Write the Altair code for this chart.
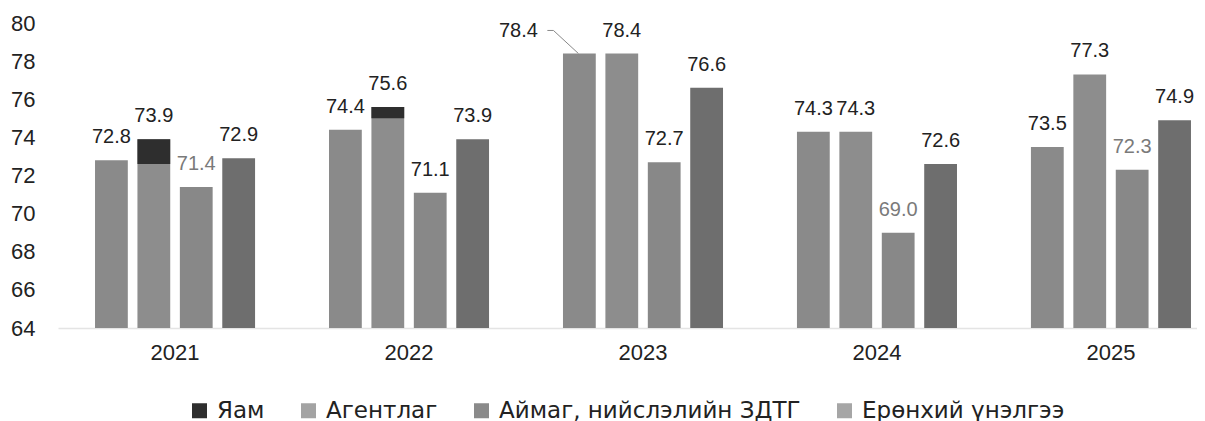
import altair as alt
import pandas as pd

years = ["2021", "2022", "2023", "2024", "2025"]
series = ["Яам", "Агентлаг", "Аймаг, нийслэлийн ЗДТГ", "Ерөнхий үнэлгээ"]
yam = [72.8, 74.4, 78.4, 74.3, 73.5]
agentlag = [73.9, 75.6, 78.4, 74.3, 77.3]
aimag = [71.4, 71.1, 72.7, 69.0, 72.3]
erunkhii = [72.9, 73.9, 76.6, 72.6, 74.9]
# dark top segment seen on the second bar (2021, 2022): from this level up to the bar value
agentlag_dark_from = [72.6, 75.0, None, None, None]

y_ticks = [64, 66, 68, 70, 72, 74, 76, 78, 80]

bar_colors = ["#8a8a8a", "#8d8d8d", "#888888", "#6e6e6e"]
legend_colors = ["#2e2e2e", "#a3a3a3", "#8a8a8a", "#a6a6a6"]
gray_label_keys = {("2021", series[2]), ("2024", series[2]), ("2025", series[2])}
leader_keys = {("2023", series[0])}

FONT = "Liberation Sans"
LEGEND_FONT = "DejaVu Sans"
# leader line shape (relative to the bar top, unit = 32px)
LEADER_PATH = "M-0.03,0L-0.81,-0.72L-1,-0.72"

rows = []
for vals, s in zip([yam, agentlag, aimag, erunkhii], series):
    for yr, v in zip(years, vals):
        rows.append({"year": yr, "series": s, "value": v,
                     "gray": (yr, s) in gray_label_keys,
                     "leader": (yr, s) in leader_keys})
df = pd.DataFrame(rows)

dark_rows = []
for yr, lo, hi in zip(years, agentlag_dark_from, agentlag):
    if lo is not None:
        dark_rows.append({"year": yr, "series": series[1], "lo": lo, "hi": hi, "legend": series[0]})
dark_df = pd.DataFrame(dark_rows)

x_enc = alt.X("year:N", sort=years, title=None,
              scale=alt.Scale(paddingInner=0.316, paddingOuter=0.092, align=0.86),
              axis=alt.Axis(labelAngle=0, labelFontSize=22, labelColor="#222222",
                            labelFont=FONT, ticks=False, domain=True,
                            domainColor="#e4e4e4", domainWidth=1.5, labelPadding=14))
xoff = alt.XOffset("series:N", sort=series, scale=alt.Scale(paddingInner=0.227))
y_scale = alt.Scale(domain=[64, 80], nice=False, zero=False)
y_axis = alt.Axis(values=y_ticks, grid=False, domain=False, ticks=False,
                  labelFontSize=22, labelColor="#222222", labelFont=FONT,
                  labelPadding=23, labelOverlap=False)

def yq(field):
    return alt.Y(field, scale=y_scale, title=None, axis=y_axis)

base = alt.Chart(df)

bars = base.mark_bar().encode(
    x=x_enc,
    xOffset=xoff,
    y=yq("value:Q"),
    y2=alt.datum(64),
    color=alt.Color("series:N", sort=series,
                    scale=alt.Scale(domain=series, range=bar_colors), legend=None),
)

dark = alt.Chart(dark_df).mark_bar().encode(
    x=x_enc,
    xOffset=xoff,
    y=yq("hi:Q"),
    y2="lo:Q",
    color=alt.Color("legend:N",
                    scale=alt.Scale(domain=series, range=legend_colors),
                    legend=alt.Legend(title=None, orient="none", direction="horizontal",
                                      columns=4, legendX=130, legendY=376,
                                      symbolType="square", symbolSize=225,
                                      symbolStrokeWidth=0, symbolOpacity=1,
                                      labelFontSize=23, labelFont=LEGEND_FONT,
                                      labelColor="#222222", labelOffset=6,
                                      columnPadding=32, labelLimit=500)),
)

labels = base.transform_filter("!datum.leader").mark_text(
    baseline="middle", dy=-23, fontSize=20, font=FONT
).encode(
    x=x_enc,
    xOffset=xoff,
    y=yq("value:Q"),
    text=alt.Text("value:Q", format=".1f"),
    color=alt.condition("datum.gray", alt.value("#7a7a7a"), alt.value("#222222")),
)

leader_label = base.transform_filter("datum.leader").mark_text(
    baseline="middle", dy=-23, dx=-61, fontSize=20, font=FONT, color="#222222"
).encode(
    x=x_enc,
    xOffset=xoff,
    y=yq("value:Q"),
    text=alt.Text("value:Q", format=".1f"),
)

leader_line = base.transform_filter("datum.leader").mark_point(
    shape=LEADER_PATH, size=4096, filled=False, stroke="#888888", strokeWidth=1,
    opacity=1
).encode(
    x=x_enc,
    xOffset=xoff,
    y=yq("value:Q"),
)

chart = alt.layer(bars, dark, labels, leader_label, leader_line).resolve_scale(
    color="independent"
).properties(
    width=1139, height=305,
    background="white",
    autosize=alt.AutoSizeParams(type="none"),
    padding={"left": 50, "top": 15, "right": 0, "bottom": 95},
).configure_view(stroke="transparent", strokeWidth=0)

chart.save("out.html", embed_options={"renderer": "svg", "actions": False})
